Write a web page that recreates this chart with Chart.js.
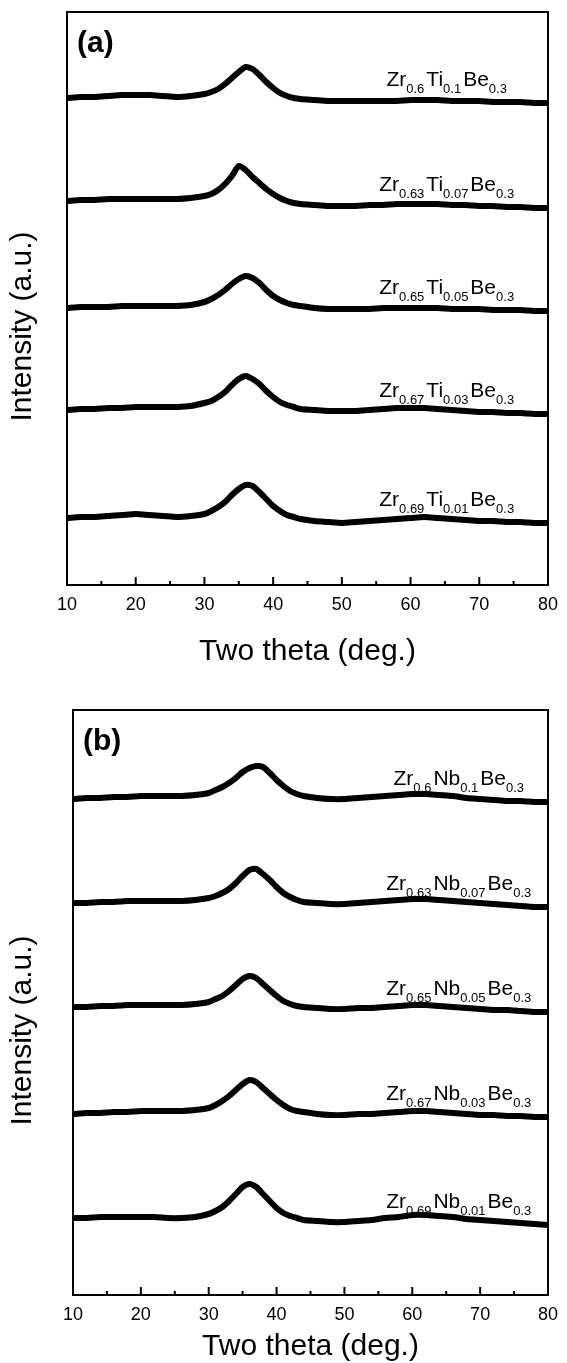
<!DOCTYPE html>
<html>
<head>
<meta charset="utf-8">
<script src="https://cdn.jsdelivr.net/npm/chart.js@4.4.1/dist/chart.umd.min.js"></script>
<style>
  html, body { margin: 0; padding: 0; background: #fff; }
  #wrap { position: relative; width: 567px; height: 1363px; }
  canvas { position: absolute; left: 0; }
  #chartA { top: 0; }
  #chartB { top: 680px; }
</style>
</head>
<body>
<div id="wrap">
  <canvas id="chartA" width="567" height="680"></canvas>
  <canvas id="chartB" width="567" height="683"></canvas>
</div>
<script>
// two theta positions (deg.), denser around the broad amorphous peak
var twoTheta = [10, 12, 14, 16, 18, 20, 22, 24, 26, 28, 30, 31, 32, 33, 34, 35, 36, 37, 38, 39, 40,
  41, 42, 43, 44, 46, 48, 50, 52, 54, 56, 58, 60, 62, 64, 66, 68, 70, 72, 74, 76, 78, 80];

// panel (a) Zr-Ti-Be, intensity (a.u.) read above each trace's own baseline
var zrTi01 = [5, 6, 6, 7, 8, 8, 8, 7, 6, 7, 9, 11, 14, 19, 25, 31, 36, 34, 28, 21, 15, 10, 7, 5, 4, 3, 2, 2, 2, 2, 2, 2, 3, 3, 3, 2, 2, 2, 1, 1, 1, 0, 0];
var zrTi07 = [7, 8, 8, 9, 9, 9, 9, 9, 9, 10, 12, 14, 18, 24, 32, 42, 38, 31, 25, 19, 14, 10, 7, 5, 4, 3, 2, 2, 2, 3, 3, 4, 4, 4, 4, 3, 3, 2, 2, 1, 1, 0, 0];
var zrTi05 = [3, 4, 4, 4, 5, 5, 5, 5, 5, 6, 9, 12, 16, 21, 27, 32, 35, 33, 28, 21, 15, 11, 8, 6, 5, 3, 2, 2, 2, 2, 3, 3, 3, 3, 3, 2, 2, 2, 1, 1, 1, 0, 0];
var zrTi03 = [4, 5, 5, 6, 6, 7, 7, 7, 7, 8, 11, 13, 17, 22, 29, 35, 38, 35, 30, 23, 17, 12, 9, 7, 5, 4, 3, 3, 3, 4, 5, 6, 6, 6, 5, 4, 3, 2, 2, 1, 1, 0, 0];
var zrTi01b = [5, 6, 6, 7, 8, 9, 8, 7, 6, 7, 9, 12, 16, 21, 28, 34, 38, 37, 31, 24, 17, 12, 8, 6, 4, 2, 1, 0, 1, 2, 3, 4, 5, 6, 5, 4, 3, 2, 2, 1, 1, 0, 0];

// panel (b) Zr-Nb-Be
var zrNb10 = [3, 4, 4, 5, 5, 6, 6, 6, 6, 7, 9, 12, 15, 19, 24, 30, 34, 36, 35, 29, 22, 16, 11, 8, 6, 4, 3, 3, 4, 5, 6, 7, 8, 8, 7, 6, 4, 3, 2, 1, 1, 0, 0];
var zrNb07 = [4, 4, 5, 5, 6, 6, 6, 6, 6, 7, 9, 11, 14, 18, 24, 31, 37, 38, 33, 27, 20, 14, 10, 7, 5, 4, 3, 3, 4, 5, 6, 7, 8, 8, 7, 6, 5, 4, 3, 2, 1, 0, 0];
var zrNb05 = [5, 5, 6, 6, 7, 7, 7, 7, 7, 8, 10, 13, 16, 21, 27, 33, 36, 34, 28, 22, 16, 11, 8, 6, 5, 4, 3, 3, 4, 4, 5, 6, 7, 7, 6, 5, 4, 3, 2, 2, 1, 0, 0];
var zrNb03 = [3, 4, 4, 5, 5, 6, 6, 6, 6, 7, 9, 12, 16, 21, 27, 33, 37, 35, 29, 23, 17, 12, 8, 6, 5, 3, 2, 2, 3, 3, 4, 5, 6, 6, 5, 4, 3, 2, 2, 1, 1, 0, 0];
var zrNb01 = [7, 7, 8, 8, 8, 8, 8, 7, 7, 8, 11, 14, 18, 24, 31, 38, 41, 38, 31, 24, 17, 12, 9, 7, 5, 4, 3, 3, 4, 5, 7, 8, 10, 10, 9, 8, 6, 5, 4, 3, 2, 1, 0];

// stacking offsets of each trace (a.u.)
var offsetsA = [482, 377, 274, 171, 62];
var offsetsB = [493, 388, 283, 178, 70];

// sample names: [base, sub, base, sub, base, sub]
var namesA = [
  ['Zr', '0.6', 'Ti', '0.1', 'Be', '0.3'],
  ['Zr', '0.63', 'Ti', '0.07', 'Be', '0.3'],
  ['Zr', '0.65', 'Ti', '0.05', 'Be', '0.3'],
  ['Zr', '0.67', 'Ti', '0.03', 'Be', '0.3'],
  ['Zr', '0.69', 'Ti', '0.01', 'Be', '0.3']
];
var namesB = [
  ['Zr', '0.6', 'Nb', '0.1', 'Be', '0.3'],
  ['Zr', '0.63', 'Nb', '0.07', 'Be', '0.3'],
  ['Zr', '0.65', 'Nb', '0.05', 'Be', '0.3'],
  ['Zr', '0.67', 'Nb', '0.03', 'Be', '0.3'],
  ['Zr', '0.69', 'Nb', '0.01', 'Be', '0.3']
];

var FONT = '"Liberation Sans", Arial, sans-serif';

function makeDatasets(series, offsets) {
  return series.map(function (s, i) {
    return {
      data: twoTheta.map(function (t, j) { return { x: t, y: offsets[i] + s[j] }; }),
      borderColor: '#000',
      borderWidth: 6,
      pointRadius: 0,
      tension: 0.25,
      fill: false
    };
  });
}

// frame, inward ticks, y title, panel letter and sample names
var decorations = {
  id: 'decorations',
  afterDraw: function (chart, args, opts) {
    var ctx = chart.ctx;
    var ca = chart.chartArea;
    var xs = chart.scales.x;
    var ys = chart.scales.y;
    ctx.save();
    ctx.strokeStyle = '#000';
    ctx.lineWidth = 2;
    ctx.strokeRect(ca.left, ca.top, ca.right - ca.left, ca.bottom - ca.top);

    xs.ticks.forEach(function (t) {
      var px = xs.getPixelForValue(t.value);
      var len = t.value % 10 === 0 ? 8 : 4;
      ctx.beginPath();
      ctx.moveTo(px, ca.bottom);
      ctx.lineTo(px, ca.bottom - len);
      ctx.stroke();
    });

    ctx.fillStyle = '#000';

    // y axis title, sits a little below the middle of the frame
    ctx.save();
    ctx.translate(23, (ca.top + ca.bottom) / 2 + 28);
    ctx.rotate(-Math.PI / 2);
    ctx.font = '30px ' + FONT;
    ctx.textAlign = 'center';
    ctx.textBaseline = 'middle';
    ctx.fillText('Intensity (a.u.)', 0, 0);
    ctx.restore();

    ctx.textBaseline = 'alphabetic';
    ctx.font = 'bold 30px ' + FONT;
    ctx.fillText(opts.letter, ca.left + 10, ca.top + 40);

    var cx = xs.getPixelForValue(opts.nameAt);
    opts.names.forEach(function (parts, i) {
      var base = ys.getPixelForValue(opts.offsets[i]) - 17;
      var w = 0;
      parts.forEach(function (p, k) {
        ctx.font = (k % 2 === 0 ? '21px ' : '13px ') + FONT;
        w += ctx.measureText(p).width + (k % 2 === 1 ? 2 : 0);
      });
      var x = cx - w / 2;
      parts.forEach(function (p, k) {
        var sub = k % 2 === 1;
        ctx.font = (sub ? '13px ' : '21px ') + FONT;
        ctx.fillText(p, x, sub ? base + 7 : base);
        x += ctx.measureText(p).width + (sub ? 2 : 0);
      });
    });
    ctx.restore();
  }
};

function makeChart(id, datasets, cfg) {
  return new Chart(document.getElementById(id), {
    type: 'line',
    data: { datasets: datasets },
    plugins: [decorations],
    options: {
      responsive: false,
      animation: false,
      devicePixelRatio: 1,
      layout: { padding: cfg.padding },
      plugins: {
        legend: { display: false },
        tooltip: { enabled: false },
        decorations: { letter: cfg.letter, names: cfg.names, offsets: cfg.offsets, nameAt: cfg.nameAt }
      },
      scales: {
        x: {
          type: 'linear',
          min: 10,
          max: 80,
          grid: { display: false, drawTicks: false },
          border: { display: false },
          ticks: {
            stepSize: 5,
            autoSkip: false,
            maxRotation: 0,
            padding: 9,
            color: '#000',
            font: { family: FONT, size: 18 },
            callback: function (v) { return v % 10 === 0 ? String(v) : ''; }
          },
          title: {
            display: true,
            text: 'Two theta (deg.)',
            color: '#000',
            font: { family: FONT, size: 30, lineHeight: 1 },
            padding: { top: 0, bottom: cfg.titlePad }
          },
          afterFit: function (scale) { scale.height = cfg.xHeight; }
        },
        y: {
          min: 0,
          max: cfg.yMax,
          grid: { display: false, drawTicks: false },
          border: { display: false },
          ticks: { display: false },
          afterFit: function (scale) { scale.width = cfg.yWidth; }
        }
      }
    }
  });
}

makeChart('chartA', makeDatasets([zrTi01, zrTi07, zrTi05, zrTi03, zrTi01b], offsetsA), {
  padding: { top: 12, right: 16, left: 0, bottom: 0 },
  letter: '(a)', names: namesA, offsets: offsetsA, nameAt: 65.4,
  xHeight: 95, yWidth: 67, yMax: 573, titlePad: 13
});

makeChart('chartB', makeDatasets([zrNb10, zrNb07, zrNb05, zrNb03, zrNb01], offsetsB), {
  padding: { top: 30, right: 9, left: 0, bottom: 0 },
  letter: '(b)', names: namesB, offsets: offsetsB, nameAt: 67,
  xHeight: 68, yWidth: 73, yMax: 585, titlePad: 1
});
</script>
</body>
</html>
